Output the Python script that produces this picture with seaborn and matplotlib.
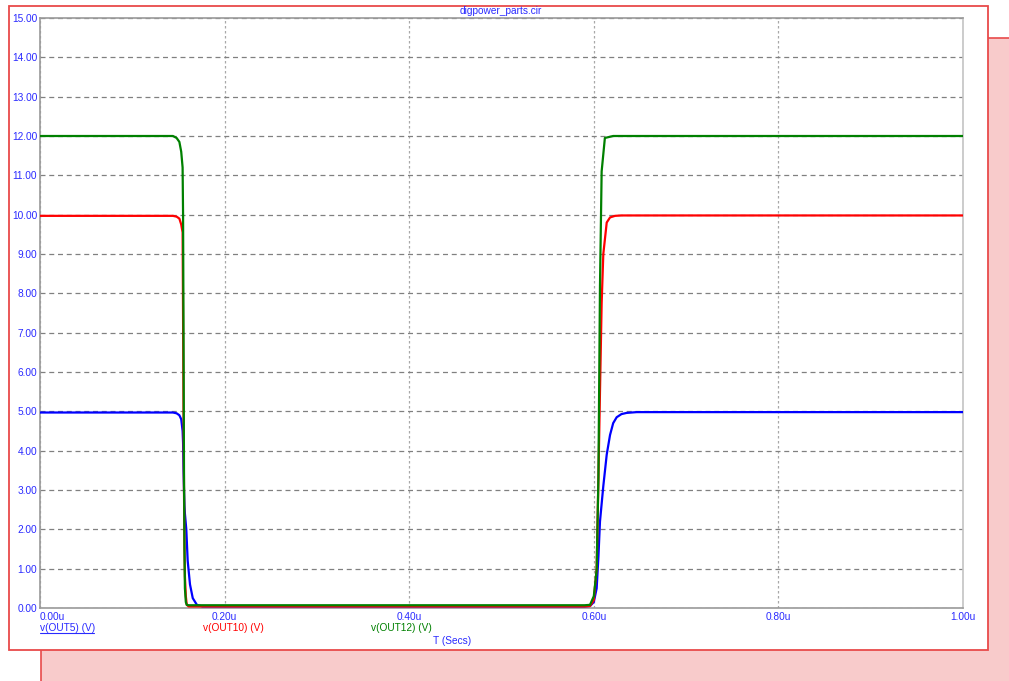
import matplotlib
matplotlib.use("Agg")
import matplotlib.pyplot as plt
from matplotlib.patches import Rectangle
from matplotlib.lines import Line2D
import seaborn as sns
import pandas as pd

# Transient waveforms (time in microseconds, voltage in volts)
t_out5 = [0.0, 0.144, 0.148, 0.151, 0.153, 0.1545, 0.155, 0.1555, 0.156, 0.1565, 0.157, 0.1585,
          0.160, 0.1625, 0.1655, 0.170, 0.176, 0.590, 0.5959, 0.600, 0.6031, 0.6050, 0.6067,
          0.6103, 0.6140, 0.6176, 0.6210, 0.6248, 0.6300, 0.6356, 0.6465, 1.0]
v_out5 = [4.97, 4.97, 4.95, 4.90, 4.80, 4.50, 4.20, 3.5, 3.0, 2.6, 2.4, 2.0,
          1.2, 0.6, 0.25, 0.08, 0.04, 0.04, 0.05, 0.15, 0.5, 1.3, 2.2,
          3.1, 3.9, 4.4, 4.7, 4.85, 4.93, 4.96, 4.98, 4.98]

t_out10 = [0.0, 0.144, 0.148, 0.151, 0.153, 0.1545, 0.155, 0.1555, 0.156, 0.1565, 0.157, 0.158,
           0.159, 0.161, 0.590, 0.5959, 0.600, 0.6031, 0.6050, 0.6067, 0.6085, 0.6103, 0.6140,
           0.6176, 0.6230, 0.6300, 1.0]
v_out10 = [9.97, 9.97, 9.95, 9.90, 9.75, 9.55, 7.4, 5.0, 3.0, 1.6, 0.8, 0.3,
           0.08, 0.04, 0.04, 0.05, 0.2, 1.0, 3.3, 5.5, 7.75, 9.0, 9.8,
           9.93, 9.97, 9.98, 9.98]

t_out12 = [0.0, 0.144, 0.148, 0.151, 0.153, 0.1545, 0.155, 0.1555, 0.156, 0.1565, 0.157, 0.158,
           0.159, 0.161, 0.590, 0.5959, 0.600, 0.6031, 0.6050, 0.6067, 0.6085, 0.6120, 0.6210,
           0.6300, 1.0]
v_out12 = [12.0, 12.0, 11.95, 11.85, 11.6, 11.2, 10.0, 7.0, 3.5, 1.5, 0.5, 0.15,
           0.08, 0.07, 0.07, 0.08, 0.3, 0.97, 3.33, 8.2, 11.1, 11.95, 12.0,
           12.0, 12.0]

series_names = ["v(OUT5) (V)", "v(OUT10) (V)", "v(OUT12) (V)"]
series_colors = ["#0000ff", "#ff0000", "#008000"]

x_ticks = [0.0, 0.2, 0.4, 0.6, 0.8, 1.0]
x_tick_labels = ["0.00u", "0.20u", "0.40u", "0.60u", "0.80u", "1.00u"]
y_ticks = list(range(0, 16))
y_tick_labels = [f"{v:.2f}" for v in y_ticks]

title_text = "digpower_parts.cir"
x_axis_label = "T (Secs)"

W, H = 1009, 681
text_blue = "#2a2aff"
frame_red = "#e84a4a"
fs = 7.3

sns.set_style("white")
plt.rcParams["font.family"] = ["Liberation Sans", "DejaVu Sans"]

fig = plt.figure(figsize=(W / 100, H / 100), dpi=100)


def fx(px):
    return px / W


def fy(py):
    return 1 - py / H


# Drop-shadow panel behind the main frame
fig.patches.append(Rectangle((fx(41), 0), 1, fy(38), transform=fig.transFigure,
                             facecolor="#f8cbcb", edgecolor="none", zorder=0))
fig.lines.append(Line2D([fx(41), fx(41)], [0, fy(38)], transform=fig.transFigure,
                        color=frame_red, lw=1.2, zorder=0.5))
fig.lines.append(Line2D([fx(41), 1], [fy(38), fy(38)], transform=fig.transFigure,
                        color=frame_red, lw=1.2, zorder=0.5))
# Main white frame
fig.patches.append(Rectangle((fx(9), fy(650)), fx(988) - fx(9), fy(6) - fy(650),
                             transform=fig.transFigure, facecolor="white",
                             edgecolor=frame_red, lw=1.3, zorder=1))

ax = fig.add_axes([fx(40), fy(608), fx(963) - fx(40), fy(18) - fy(608)])
ax.set_zorder(2)
ax.patch.set_alpha(0)

frames = []
for name, t, v in zip(series_names, [t_out5, t_out10, t_out12], [v_out5, v_out10, v_out12]):
    frames.append(pd.DataFrame({"t": t, "v": v, "series": name}))
data = pd.concat(frames, ignore_index=True)

for name, color in zip(series_names, series_colors):
    sub = data[data["series"] == name]
    sns.lineplot(data=sub, x="t", y="v", ax=ax, color=color, lw=1.6,
                 sort=False, estimator=None, legend=False, zorder=3)

ax.set_xlim(0, 1.0)
ax.set_ylim(0, 15)
ax.set_xticks(x_ticks)
ax.set_xticklabels(x_tick_labels)
ax.set_yticks(y_ticks)
ax.set_yticklabels(y_tick_labels)
ax.tick_params(axis="both", length=0, labelsize=fs, labelcolor=text_blue)
ax.tick_params(axis="x", pad=3)
ax.tick_params(axis="y", pad=2)
ax.get_xticklabels()[0].set_horizontalalignment("left")
ax.set_xlabel("")
ax.set_ylabel("")

ax.yaxis.grid(True, color="#808080", lw=0.9, linestyle=(0, (4, 3)))
ax.xaxis.grid(True, color="#a8a8a8", lw=0.9, linestyle=(0, (2, 2)))
ax.set_axisbelow(True)

for side in ["left", "bottom", "top"]:
    ax.spines[side].set_color("#9a9a9a")
    ax.spines[side].set_linewidth(1.2)
ax.spines["right"].set_color("#c4c4c4")
ax.spines["right"].set_linewidth(1.2)

# Title and series labels below the axis
fig.text(fx(501), fy(11), title_text, ha="center", va="center", fontsize=fs, color=text_blue)
label_x = [40, 203, 371]
for name, color, lx in zip(series_names, series_colors, label_x):
    c = text_blue if color == "#0000ff" else color
    fig.text(fx(lx), fy(628), name, ha="left", va="center", fontsize=fs, color=c)
fig.lines.append(Line2D([fx(40), fx(94)], [fy(633), fy(633)], transform=fig.transFigure,
                        color=text_blue, lw=0.8))
fig.text(fx(452), fy(641), x_axis_label, ha="center", va="center", fontsize=fs, color=text_blue)

fig.savefig("out.png", dpi=100)
